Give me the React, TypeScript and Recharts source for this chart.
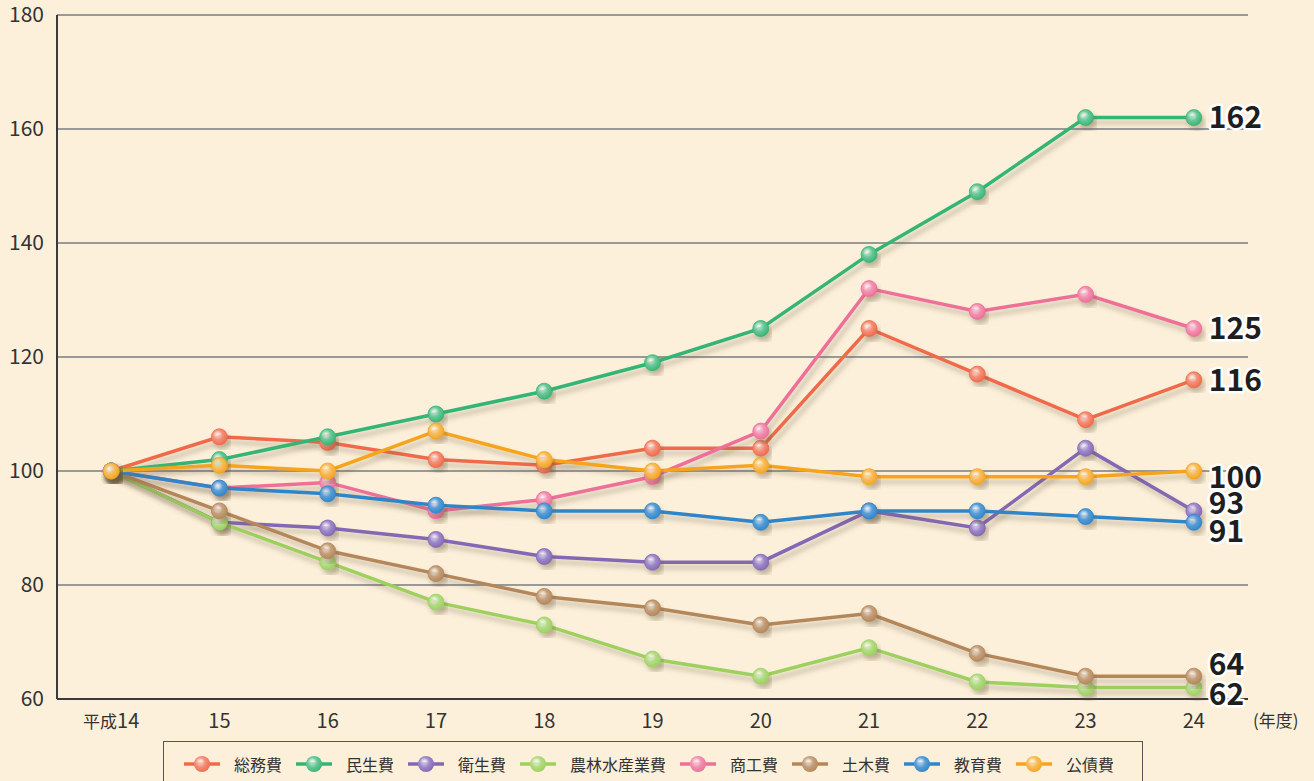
import { CartesianGrid, LabelList, Line, LineChart, XAxis, YAxis } from "recharts";

const years = ["平成14", "15", "16", "17", "18", "19", "20", "21", "22", "23", "24"];

const somu = [100, 106, 105, 102, 101, 104, 104, 125, 117, 109, 116];
const minsei = [100, 102, 106, 110, 114, 119, 125, 138, 149, 162, 162];
const eisei = [100, 91, 90, 88, 85, 84, 84, 93, 90, 104, 93];
const norin = [100, 91, 84, 77, 73, 67, 64, 69, 63, 62, 62];
const shoko = [100, 97, 98, 93, 95, 99, 107, 132, 128, 131, 125];
const doboku = [100, 93, 86, 82, 78, 76, 73, 75, 68, 64, 64];
const kyoiku = [100, 97, 96, 94, 93, 93, 91, 93, 93, 92, 91];
const kosai = [100, 101, 100, 107, 102, 100, 101, 99, 99, 99, 100];

const yTicks = [60, 80, 100, 120, 140, 160, 180];

const series = [
  { key: "somu", name: "総務費", values: somu, color: "#f06a4a", dot: "#f4907a", dy: 0 },
  { key: "minsei", name: "民生費", values: minsei, color: "#35b574", dot: "#6cc89a", dy: 0 },
  { key: "eisei", name: "衛生費", values: eisei, color: "#8468b4", dot: "#a08ccc", dy: -8 },
  { key: "norin", name: "農林水産業費", values: norin, color: "#9dd05e", dot: "#b4dc88", dy: 7 },
  { key: "shoko", name: "商工費", values: shoko, color: "#ee6f98", dot: "#f394b4", dy: 0 },
  { key: "doboku", name: "土木費", values: doboku, color: "#b4875a", dot: "#c6a27e", dy: -12 },
  { key: "kyoiku", name: "教育費", values: kyoiku, color: "#2f86c9", dot: "#5a9fd8", dy: 9 },
  { key: "kosai", name: "公債費", values: kosai, color: "#f6a41f", dot: "#f8bd5c", dy: 6 },
];

const data = years.map((y, i) => {
  const row: Record<string, number | string> = { idx: i, year: y };
  series.forEach((s) => (row[s.key] = s.values[i]));
  return row;
});

const FONT = "'Noto Sans CJK JP', 'Noto Sans', sans-serif";
const BG = "#fcf0da";

function endLabel(dy: number) {
  return (props: any) => {
    const { x, y, value, index } = props;
    if (index !== years.length - 1) return null;
    return (
      <text
        x={x + 15}
        y={y + dy}
        dy="0.36em"
        fontSize={30}
        fontWeight={700}
        fontFamily={FONT}
        fill="#1e1e1e"
        stroke="#fff"
        strokeWidth={5}
        strokeLinejoin="round"
        paintOrder="stroke"
      >
        {value}
      </text>
    );
  };
}

// x labels: era kanji a bit smaller than the digits
function YearTick({ x, y, payload }: any) {
  const label = years[payload.value] ?? "";
  const m = label.match(/^(\D*)(\d+)$/);
  const pre = m ? m[1] : "";
  const num = m ? m[2] : label;
  return (
    <text x={x} y={y + 21} textAnchor="middle" fill="#333" fontFamily={FONT}>
      {pre && <tspan fontSize={17}>{pre}</tspan>}
      <tspan fontSize={20}>{num}</tspan>
    </text>
  );
}

function Marker({ color, dot, k }: { color: string; dot: string; k: string }) {
  return (
    <svg width={40} height={20} style={{ marginRight: 12 }}>
      <line x1={2} y1={10} x2={38} y2={10} stroke={color} strokeWidth={3.5} />
      <circle cx={20} cy={10} r={8} fill={`url(#lg-${k})`} />
      <defs>
        <radialGradient id={`lg-${k}`} cx="40%" cy="38%" r="65%">
          <stop offset="0%" stopColor="#fff" stopOpacity={0.55} />
          <stop offset="45%" stopColor={dot} />
          <stop offset="100%" stopColor={color} />
        </radialGradient>
      </defs>
    </svg>
  );
}

export default function App() {
  return (
    <div style={{ position: "absolute", left: 0, top: 0, width: 1314, height: 781, background: BG, overflow: "hidden", fontFamily: FONT }}>
      <LineChart width={1314} height={781} data={data} margin={{ top: 15, right: 66, left: 0, bottom: 42 }}>
        <defs>
          <filter id="shadow" x="-10%" y="-10%" width="130%" height="140%">
            <feDropShadow dx={3} dy={5} stdDeviation={2.5} floodColor="#6b5a3a" floodOpacity={0.35} />
          </filter>
          {series.map((s) => (
            <radialGradient key={s.key} id={`g-${s.key}`} cx="40%" cy="38%" r="65%">
              <stop offset="0%" stopColor="#fff" stopOpacity={0.55} />
              <stop offset="45%" stopColor={s.dot} />
              <stop offset="100%" stopColor={s.color} />
            </radialGradient>
          ))}
        </defs>
        <CartesianGrid vertical={false} stroke="#999" strokeWidth={2} />
        <XAxis
          dataKey="idx"
          type="number"
          domain={[-0.5, 10.5]}
          ticks={years.map((_, i) => i)}
          interval={0}
          tickLine={false}
          axisLine={{ stroke: "#3a3a3a", strokeWidth: 2 }}
          tick={<YearTick />}
          height={40}
          label={{ value: "(年度)", position: "right", offset: 5, fill: "#333", fontSize: 17, fontFamily: FONT, dy: 2 }}
        />
        <XAxis
          xAxisId="sep"
          dataKey="idx"
          type="number"
          domain={[-0.5, 10.5]}
          ticks={years.map((_, i) => i + 0.5)}
          interval={0}
          mirror
          tick={false}
          axisLine={false}
          tickSize={11}
          tickLine={{ stroke: "#3a3a3a", strokeWidth: 1.5 }}
        />
        <YAxis
          domain={[60, 180]}
          ticks={yTicks}
          interval={0}
          width={57}
          tickLine={false}
          axisLine={{ stroke: "#3a3a3a", strokeWidth: 2 }}
          tick={{ fill: "#333", fontSize: 21, fontFamily: FONT }}
          tickMargin={7}
        />
        {series.map((s) => (
          <Line
            key={s.key}
            dataKey={s.key}
            name={s.name}
            stroke={s.color}
            strokeWidth={3.5}
            type="linear"
            filter="url(#shadow)"
            isAnimationActive={false}
            dot={{ r: 8, fill: `url(#g-${s.key})`, stroke: s.color, strokeWidth: 0.8, filter: "url(#shadow)" }}
            activeDot={false}
          >
            <LabelList dataKey={s.key} content={endLabel(s.dy)} />
          </Line>
        ))}
      </LineChart>
      <div
        style={{
          position: "absolute",
          left: 163,
          top: 741,
          width: 980,
          height: 60,
          border: "1.5px solid #555",
          boxSizing: "border-box",
          display: "flex",
          alignItems: "flex-start",
          paddingTop: 12,
          paddingLeft: 18,
          fontSize: 16,
          color: "#333",
        }}
      >
        {series.map((s) => (
          <div key={s.key} style={{ display: "flex", alignItems: "center", marginRight: 12, lineHeight: "20px" }}>
            <Marker color={s.color} dot={s.dot} k={s.key} />
            <span>{s.name}</span>
          </div>
        ))}
      </div>
    </div>
  );
}
